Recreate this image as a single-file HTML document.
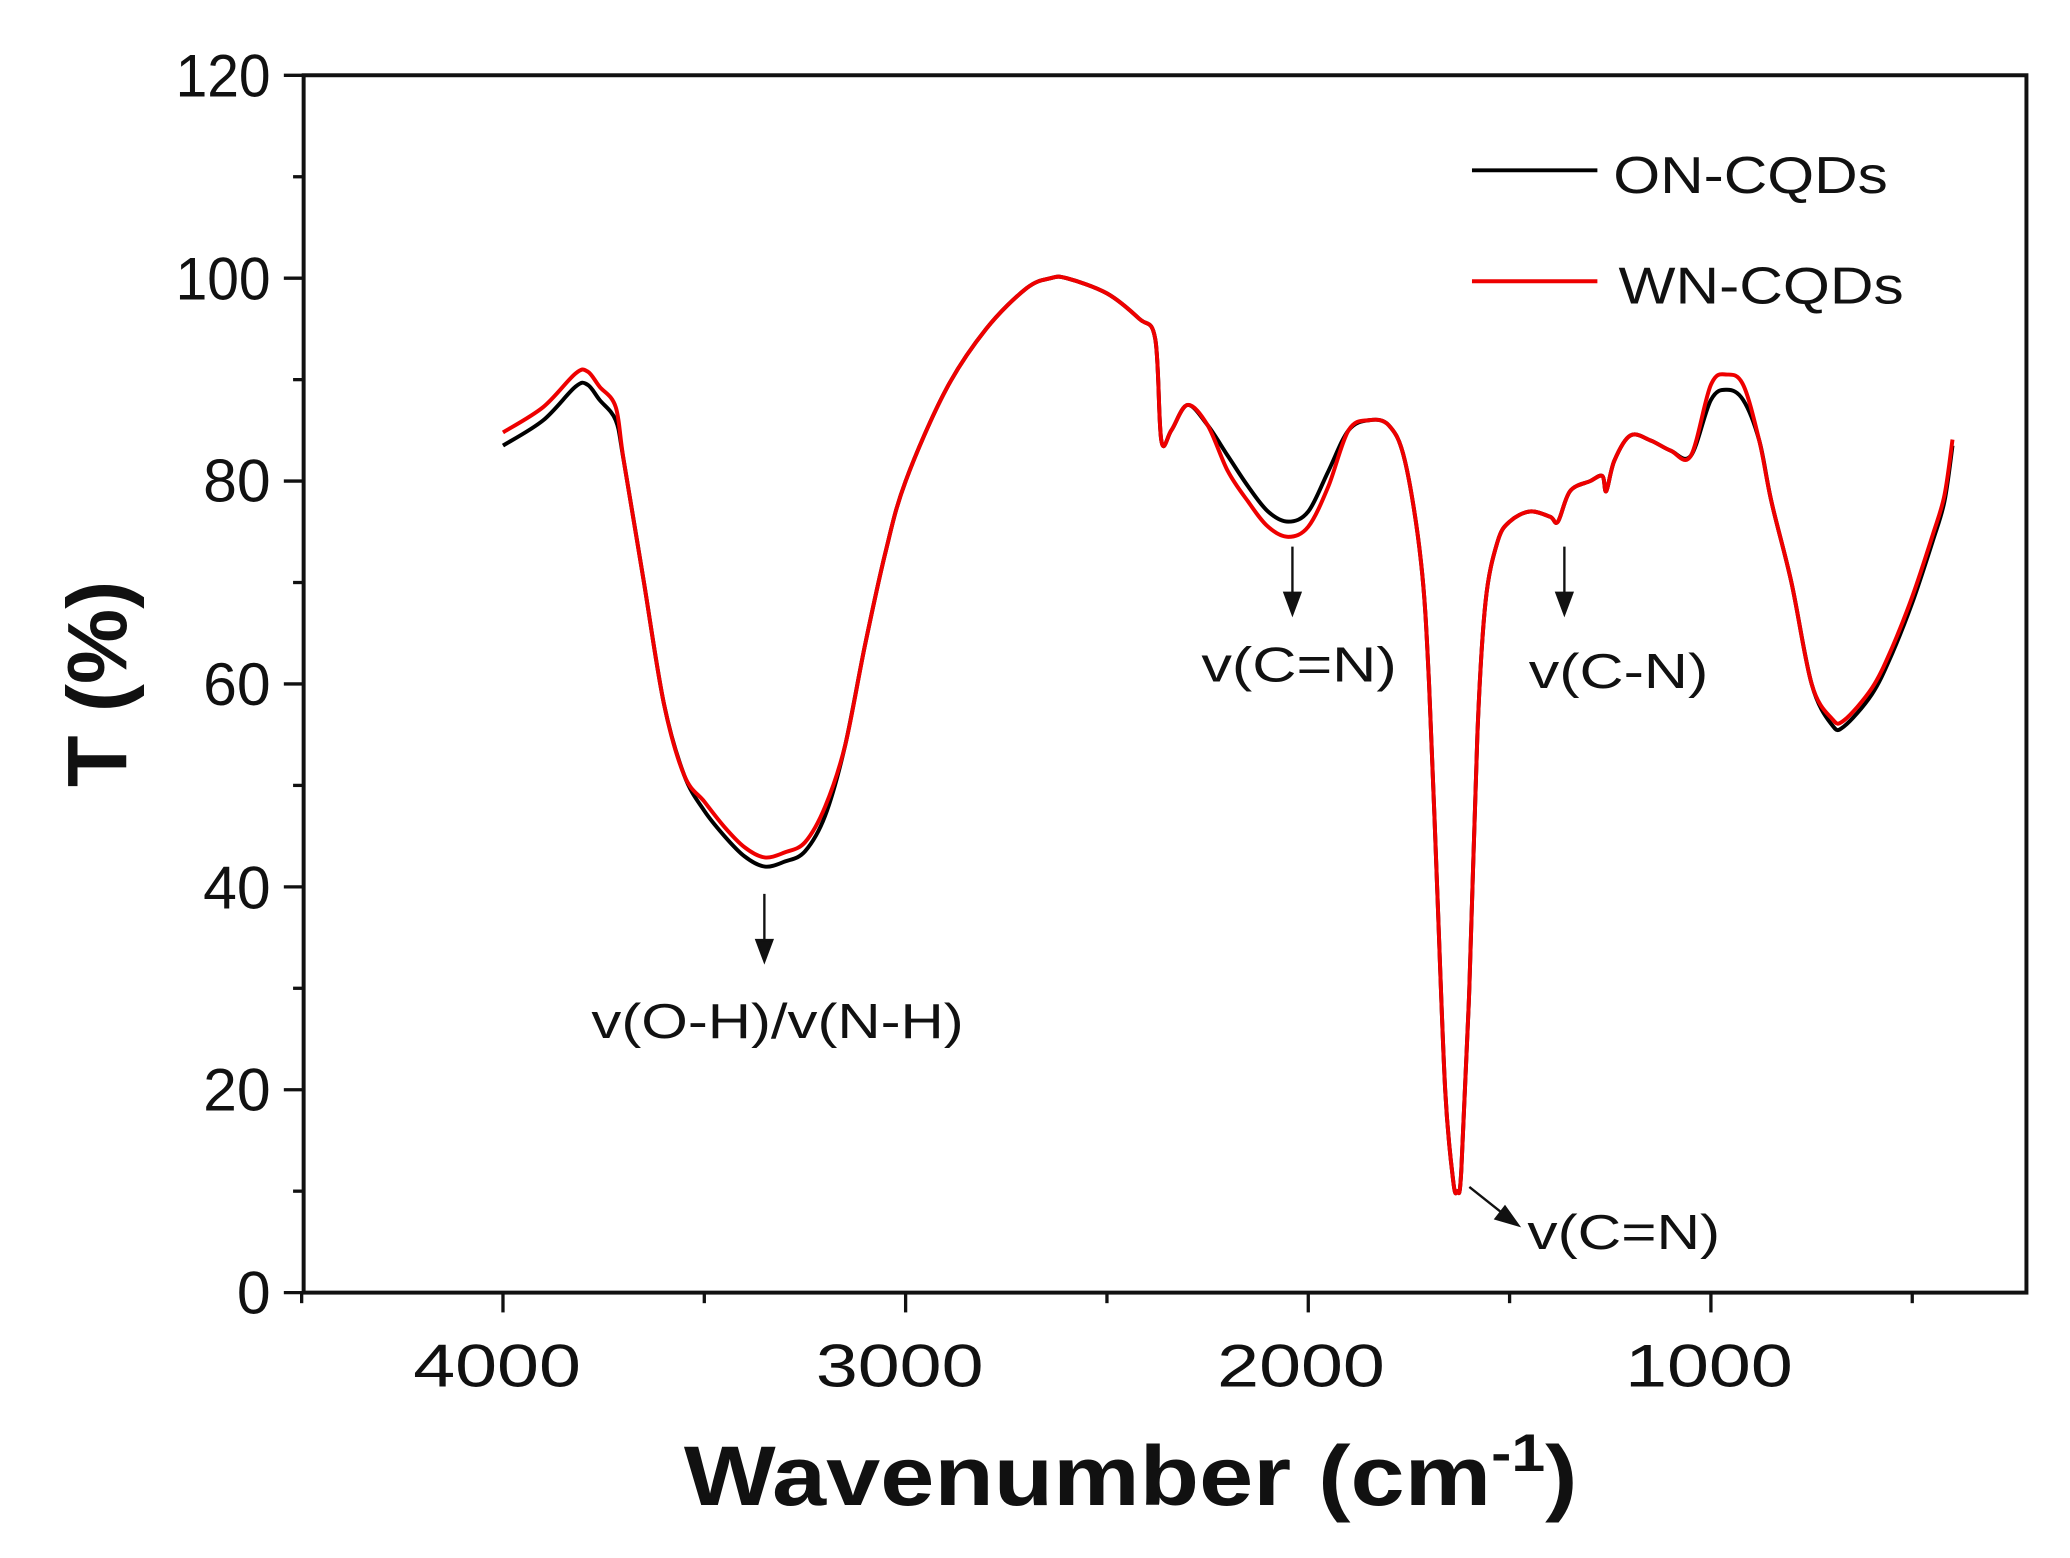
<!DOCTYPE html>
<html><head><meta charset="utf-8"><style>
html,body{margin:0;padding:0;background:#fff;}
svg{display:block;}
text{font-family:"Liberation Sans",Arial,sans-serif;fill:#111;}
</style></head><body>
<svg width="2070" height="1558" viewBox="0 0 1568 1180" preserveAspectRatio="none" xmlns="http://www.w3.org/2000/svg">
<rect width="1568" height="1180" fill="#fff"/>
<g id="ticks" stroke="#111" stroke-width="2.5"></g>
<rect x="230" y="57" width="1305" height="922" fill="none" stroke="#111" stroke-width="3"/>
<g font-size="46" text-anchor="end">
<text x="205" y="995">0</text><text x="205" y="841">20</text><text x="205" y="688">40</text>
<text x="205" y="534">60</text><text x="205" y="380">80</text><text x="205" y="227" textLength="72" lengthAdjust="spacingAndGlyphs">100</text><text x="205" y="73" textLength="72" lengthAdjust="spacingAndGlyphs">120</text>
</g>
<g font-size="46">
<text x="313" y="1050" textLength="127" lengthAdjust="spacingAndGlyphs">4000</text>
<text x="618" y="1050" textLength="127" lengthAdjust="spacingAndGlyphs">3000</text>
<text x="922" y="1050" textLength="127" lengthAdjust="spacingAndGlyphs">2000</text>
<text x="1231" y="1050" textLength="127" lengthAdjust="spacingAndGlyphs">1000</text>
</g>
<text x="518" y="1140" font-size="64" font-weight="bold" textLength="677" lengthAdjust="spacingAndGlyphs">Wavenumber (cm<tspan font-size="40" dy="-26">-1</tspan><tspan dy="26">)</tspan></text>
<text transform="translate(96,518) rotate(-90)" font-size="64" font-weight="bold" text-anchor="middle">T (%)</text>
<line x1="1115" y1="129" x2="1210" y2="129" stroke="#000" stroke-width="3"/>
<text x="1222" y="146" font-size="39" textLength="208" lengthAdjust="spacingAndGlyphs">ON-CQDs</text>
<line x1="1115" y1="213" x2="1210" y2="213" stroke="#e00" stroke-width="3"/>
<text x="1226" y="230" font-size="39" textLength="216" lengthAdjust="spacingAndGlyphs">WN-CQDs</text>
<g font-size="37">
<text x="448" y="786" textLength="282" lengthAdjust="spacingAndGlyphs">v(O-H)/v(N-H)</text>
<text x="910" y="516" textLength="148" lengthAdjust="spacingAndGlyphs">v(C=N)</text>
<text x="1158" y="521" textLength="136" lengthAdjust="spacingAndGlyphs">v(C-N)</text>
<text x="1157" y="946" textLength="146" lengthAdjust="spacingAndGlyphs">v(C=N)</text>
</g>
<g stroke="#111" stroke-width="1.8" fill="#111">
<line x1="579" y1="677" x2="579" y2="720"/><path d="M573,712 L579,728 L585,712Z"/>
<line x1="979" y1="414" x2="979" y2="457"/><path d="M973,449 L979,465 L985,449Z"/>
<line x1="1185" y1="414" x2="1185" y2="457"/><path d="M1179,449 L1185,465 L1191,449Z"/>
<line x1="1113" y1="899" x2="1142" y2="922"/><path d="M1133,923 L1150,928 L1140,914Z"/>
</g>
<path id="black" fill="none" stroke="#000" stroke-width="3"/>
<path id="red" fill="none" stroke="#e00" stroke-width="3"/>
</svg>
<script>
function X(w){return 381+(4000-w)*0.305;}
function Y(t){return 979-t*7.683;}
var b=[[4000,83.5],[3900,86],[3820,89.3],[3790,89.5],[3760,88],[3720,86],[3700,82],[3650,70],[3600,58],[3550,51],[3500,47.5],[3450,45],[3400,43],[3350,42],[3300,42.5],[3250,43.5],[3200,47],[3150,54],[3100,64],[3050,73],[3000,80],[2900,89],[2800,95],[2700,99],[2640,100],[2600,100],[2500,98.5],[2420,96],[2380,94],[2365,84],[2340,85],[2300,87.5],[2250,85.5],[2200,82.5],[2150,79.5],[2100,77],[2050,76],[2000,77],[1950,81],[1900,85],[1850,86],[1800,85.5],[1760,82],[1720,72],[1700,60],[1680,40],[1660,20],[1640,11],[1630,10],[1620,12],[1600,30],[1580,55],[1560,68],[1530,74],[1500,76],[1450,77],[1400,76.5],[1380,76],[1350,79],[1300,80],[1270,80.5],[1260,79],[1240,82],[1200,84.5],[1150,84],[1100,83],[1050,82.5],[1000,88],[960,89],[920,88],[880,84],[850,78],[800,70],[750,60],[700,56],[670,55.8],[600,59],[550,63],[500,68],[450,74],[420,78],[400,83.5]];
function path(a){var p=a.map(function(q){return [X(q[0]),Y(q[1])];});
 var d='M'+p[0][0].toFixed(1)+','+p[0][1].toFixed(1);
 for(var i=0;i<p.length-1;i++){var p0=p[i?i-1:0],p1=p[i],p2=p[i+1],p3=p[i+2<p.length?i+2:i+1];
  var c1x=p1[0]+(p2[0]-p0[0])/6,c1y=p1[1]+(p2[1]-p0[1])/6,c2x=p2[0]-(p3[0]-p1[0])/6,c2y=p2[1]-(p3[1]-p1[1])/6;
  d+=' C'+c1x.toFixed(1)+','+c1y.toFixed(1)+' '+c2x.toFixed(1)+','+c2y.toFixed(1)+' '+p2[0].toFixed(1)+','+p2[1].toFixed(1);}
 return d;}
var r=b.map(function(p){var w=p[0],t=p[1];
 if(w>3700)t+=1.3;
 else if(w>=3200&&w<=3500)t+=0.9;
 else if(w>=1950&&w<=2200)t-=1.5;
 else if(w>=900&&w<=1000)t+=1.5;
 else if(w>=400&&w<=700)t+=0.6;
 return [w,t];});
document.getElementById('black').setAttribute('d',path(b));
document.getElementById('red').setAttribute('d',path(r));
var g=document.getElementById('ticks'),s='';
for(var v=0;v<=120;v+=10){var y=Y(v),L=v%20?8:15;s+='<line x1="'+(230-L)+'" y1="'+y+'" x2="230" y2="'+y+'"/>';}
for(var w=4500;w>=500;w-=500){var x=X(w),L=w%1000?8:15;s+='<line x1="'+x+'" y1="979" x2="'+x+'" y2="'+(979+L)+'"/>';}
g.innerHTML=s;
</script>
</body></html>
